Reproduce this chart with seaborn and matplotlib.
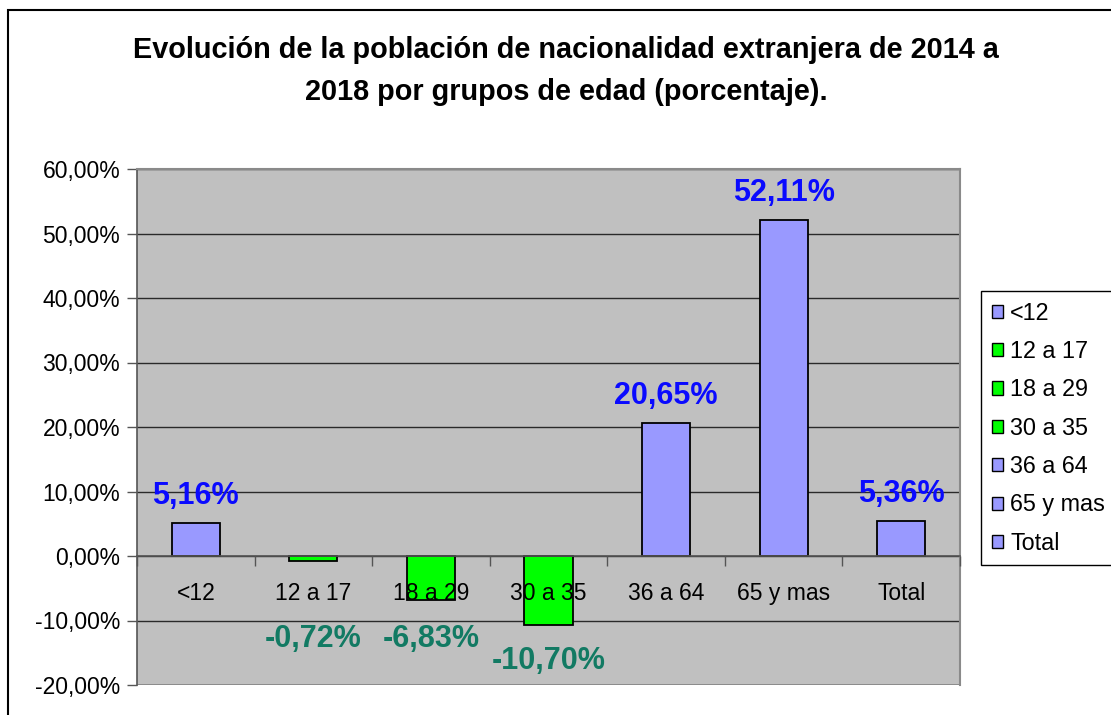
import matplotlib
matplotlib.use("Agg")
import matplotlib.pyplot as plt
import matplotlib.ticker as mticker
from matplotlib.patches import Rectangle, Patch
import seaborn as sns
import pandas as pd

categories = ["<12", "12 a 17", "18 a 29", "30 a 35", "36 a 64", "65 y mas", "Total"]
values = [5.16, -0.72, -6.83, -10.70, 20.65, 52.11, 5.36]
y_ticks = [-20, -10, 0, 10, 20, 30, 40, 50, 60]
title = "Evolución de la población de nacionalidad extranjera de 2014 a\n2018 por grupos de edad (porcentaje)."

POS_COLOR = "#9999FF"
NEG_COLOR = "#00FF00"
POS_LABEL = "#0A0AFF"
NEG_LABEL = "#127A63"

sns.set_style("white")
plt.rcParams["font.family"] = ["Liberation Sans", "DejaVu Sans"]
plt.rcParams["text.color"] = "black"
plt.rcParams["xtick.color"] = "black"
plt.rcParams["ytick.color"] = "black"
plt.rcParams["xtick.labelcolor"] = "black"
plt.rcParams["ytick.labelcolor"] = "black"
plt.rcParams["legend.labelcolor"] = "black"

df = pd.DataFrame({"cat": categories, "val": values})
palette = {c: (POS_COLOR if v >= 0 else NEG_COLOR) for c, v in zip(categories, values)}

fig = plt.figure(figsize=(11.11, 7.15), dpi=100)
ax = fig.add_axes([137 / 1111, 1 - 685 / 715, (960 - 137) / 1111, (685 - 169) / 715])

sns.barplot(data=df, x="cat", y="val", hue="cat", palette=palette, dodge=False,
            width=0.41, edgecolor="black", linewidth=1.3, legend=False, ax=ax,
            saturation=1, zorder=3)

ax.set_facecolor("#C0C0C0")
ax.set_ylim(-20, 60)
ax.set_xlim(-0.5, len(categories) - 0.5)
ax.set_yticks(y_ticks)
ax.yaxis.set_major_formatter(mticker.FuncFormatter(lambda v, p: f"{v:.2f}%".replace(".", ",")))
ax.grid(axis="y", color="#2a2a2a", linewidth=1.0)
ax.set_axisbelow(True)
ax.xaxis.set_zorder(5)
ax.set_xlabel("")
ax.set_ylabel("")

for s in ["top", "right"]:
    ax.spines[s].set_color("#8a8a8a")
    ax.spines[s].set_linewidth(1.5)
ax.spines["left"].set_color("#555555")
ax.spines["left"].set_linewidth(1.2)
ax.spines["bottom"].set_position(("data", 0))
ax.spines["bottom"].set_color("#555555")
ax.spines["bottom"].set_linewidth(1.2)
ax.spines["bottom"].set_zorder(4)
# bottom edge of plot area
ax.axhline(-20, color="#8a8a8a", linewidth=2, zorder=1)

ax.tick_params(axis="y", direction="out", length=7, width=1, color="#555555",
               labelsize=16.5, pad=5, left=True)
ax.set_xticks(range(len(categories)))
ax.set_xticklabels(categories)
ax.tick_params(axis="x", which="major", length=0, labelsize=16.5, pad=19)
ax.set_xticks([i - 0.5 for i in range(len(categories) + 1)], minor=True)
ax.tick_params(axis="x", which="minor", direction="out", length=7, width=1,
               color="#555555", bottom=True)

for i, v in enumerate(values):
    label = f"{v:.2f}%".replace(".", ",")
    if v >= 0:
        ax.text(i, v + 4.2, label, ha="center", va="center", fontsize=22,
                fontweight="bold", color=POS_LABEL, zorder=6)
    else:
        ax.text(i, min(v - 5, -12.3) - 0.6, label, ha="center", va="center", fontsize=22,
                fontweight="bold", color=NEG_LABEL, zorder=6)

fig.text(566 / 1111, 1 - 71 / 715, title, ha="center", va="center", fontsize=20.8,
         fontweight="bold", linespacing=1.6, color="black")

handles = [Patch(facecolor=palette[c], edgecolor="black", linewidth=1.0) for c in categories]
leg = fig.legend(handles, categories, loc="upper left",
                 bbox_to_anchor=(981 / 1111, 1 - 291 / 715), fontsize=16.8,
                 frameon=True, fancybox=False, edgecolor="black", framealpha=1,
                 handlelength=0.5, handleheight=0.5, handletextpad=0.3,
                 labelspacing=0.66, borderpad=0.45, borderaxespad=0)
leg.get_frame().set_linewidth(1.0)

fig.patches.append(Rectangle((8 / 1111, -0.05), 1.2, 1.05 - 10 / 715, transform=fig.transFigure,
                             fill=False, edgecolor="black", linewidth=1.5, zorder=0))

fig.savefig("out.png", dpi=100)
